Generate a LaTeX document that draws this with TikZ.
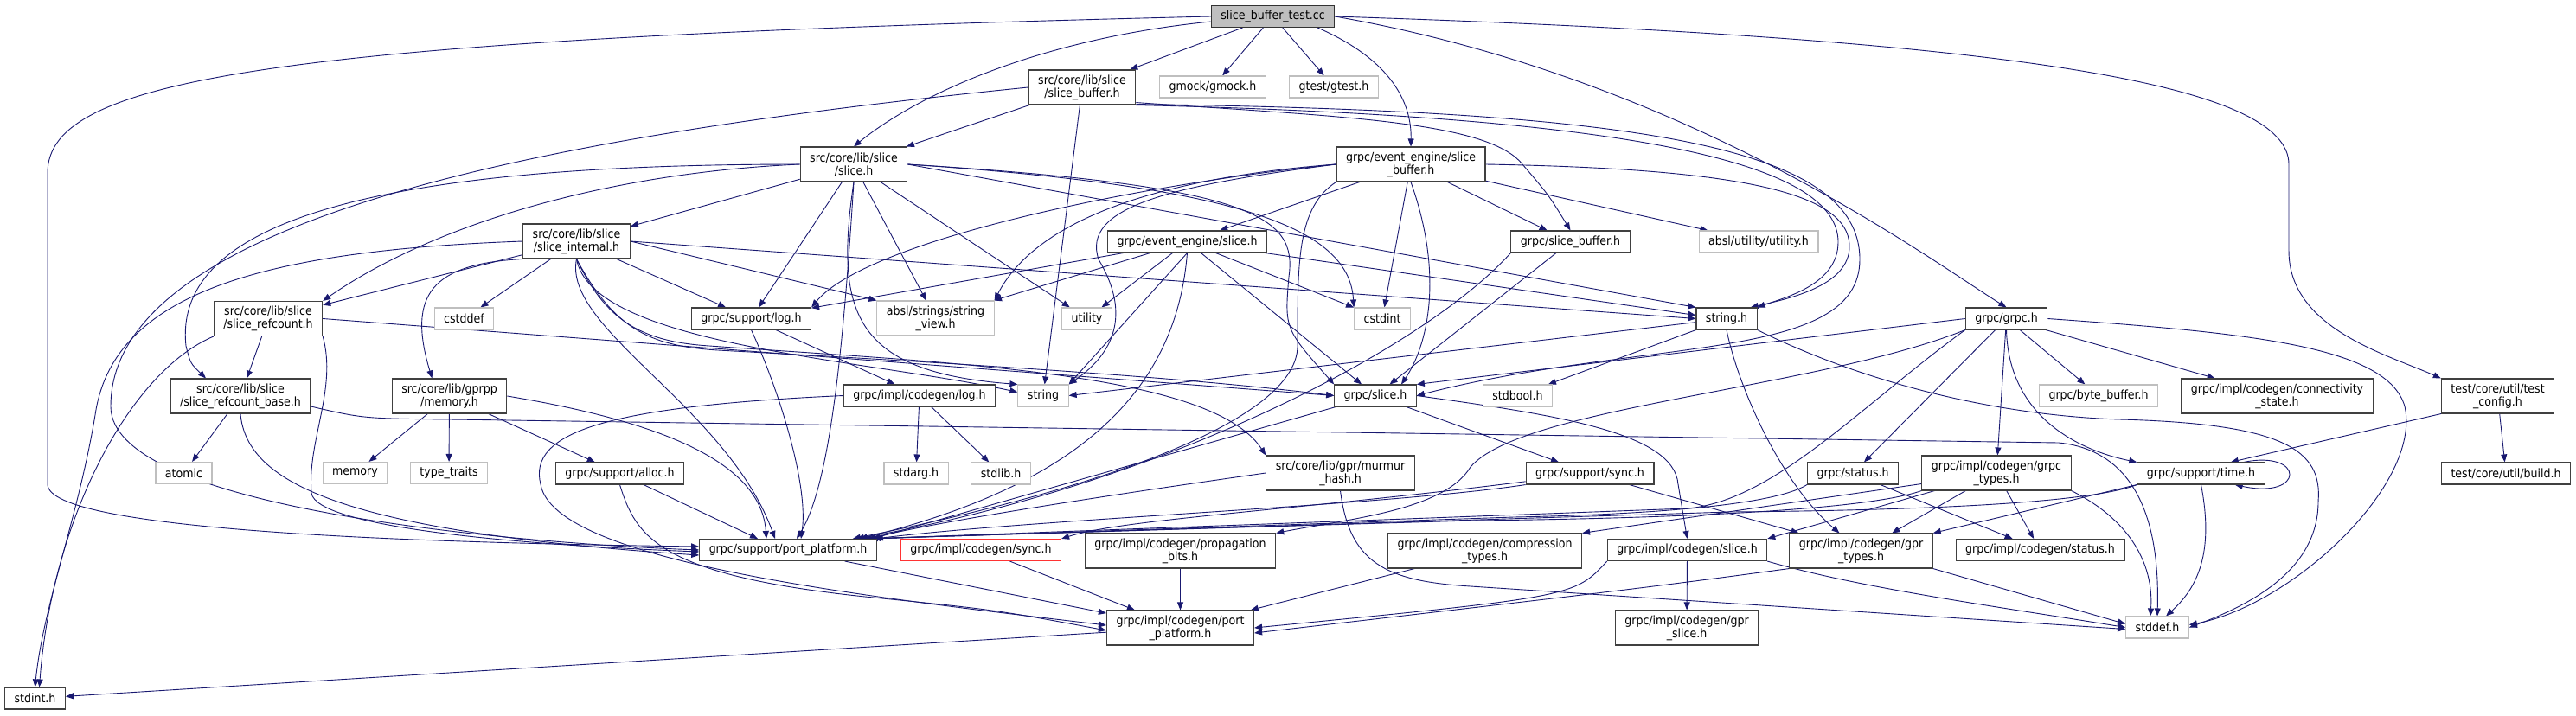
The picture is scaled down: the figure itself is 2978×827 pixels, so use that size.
\documentclass[tikz,border=0pt]{standalone}
\usepackage{fontspec}
\setmainfont{DejaVu Sans Condensed}
\usetikzlibrary{positioning,arrows.meta,backgrounds}

\definecolor{edgeblue}{HTML}{191970}
\definecolor{extgray}{HTML}{BFBFBF}
\newcommand{\dgfont}{\fontsize{14}{15}\selectfont}

\tikzset{
  hdr/.style={draw=black!75, line width=1.1pt, fill=white, inner xsep=11pt, inner ysep=0pt,
    minimum height=25pt, align=center, font=\dgfont},
  two/.style={minimum height=40pt},
  ext/.style={hdr, draw=extgray},
  cur/.style={hdr, fill=extgray, draw=black!80},
  miss/.style={hdr, draw=red!80},
  inc/.style={draw=edgeblue, line width=0.9pt, -{Triangle[length=9pt,width=7pt]}}
}

\begin{document}
\begin{tikzpicture}[x=1pt, y=-1pt]
\useasboundingbox (0,0) rectangle (2978,827);

\node[cur] (root) at (1471.5,19) {slice\_buffer\_test.cc};

\node[hdr,two] (sb) at (1251,101) {src/core/lib/slice\\/slice\_buffer.h};
\node[ext] (gmock) at (1402,100.5) {gmock/gmock.h};
\node[ext] (gtest) at (1542,100.5) {gtest/gtest.h};

\node[hdr,two] (ls) at (987,190) {src/core/lib/slice\\/slice.h};
\node[hdr,two] (eesb) at (1631,190) {grpc/event\_engine/slice\\\_buffer.h};

\node[hdr,two] (sint) at (666.5,279) {src/core/lib/slice\\/slice\_internal.h};
\node[hdr] (eeslice) at (1372.5,279.5) {grpc/event\_engine/slice.h};
\node[hdr] (gsb) at (1815.5,279.5) {grpc/slice\_buffer.h};
\node[ext] (absutil) at (2033,279.5) {absl/utility/utility.h};

\node[hdr,two] (refc) at (310,368.5) {src/core/lib/slice\\/slice\_refcount.h};
\node[ext] (cstddef) at (536.5,368.5) {cstddef};
\node[hdr] (slog) at (868.5,368.5) {grpc/support/log.h};
\node[ext,two] (sview) at (1081.5,368) {absl/strings/string\\\_view.h};
\node[ext] (utility) at (1256.5,368.5) {utility};
\node[ext] (cstdint) at (1598,368.5) {cstdint};
\node[hdr] (strh) at (1996,368.5) {string.h};
\node[hdr] (grpch) at (2319.5,368.5) {grpc/grpc.h};

\node[hdr,two] (refb) at (278,458) {src/core/lib/slice\\/slice\_refcount\_base.h};
\node[hdr,two] (memh) at (519.5,458) {src/core/lib/gprpp\\/memory.h};
\node[hdr] (clog) at (1063,457.5) {grpc/impl/codegen/log.h};
\node[ext] (string) at (1206,457.5) {string};
\node[hdr] (gslice) at (1590,457.5) {grpc/slice.h};
\node[ext] (stdbool) at (1754.5,457.5) {stdbool.h};
\node[ext] (bytebuf) at (2426,457.5) {grpc/byte\_buffer.h};
\node[hdr,two] (connst) at (2632.5,458) {grpc/impl/codegen/connectivity\\\_state.h};
\node[hdr,two] (testcfg) at (2887.5,458) {test/core/util/test\\\_config.h};

\node[ext] (atomic) at (212.5,547) {atomic};
\node[ext] (memory) at (410.5,547) {memory};
\node[ext] (typetr) at (519,547) {type\_traits};
\node[hdr] (alloc) at (716.5,547.5) {grpc/support/alloc.h};
\node[ext] (stdarg) at (1059,547.5) {stdarg.h};
\node[ext] (stdlib) at (1157,547.5) {stdlib.h};
\node[hdr,two] (murmur) at (1549.5,547) {src/core/lib/gpr/murmur\\\_hash.h};
\node[hdr] (ssync) at (1838,547.5) {grpc/support/sync.h};
\node[hdr] (status) at (2142,547.5) {grpc/status.h};
\node[hdr,two] (grpctypes) at (2308,547) {grpc/impl/codegen/grpc\\\_types.h};
\node[hdr] (stime) at (2544.5,547.5) {grpc/support/time.h};
\node[hdr] (build) at (2897,547.5) {test/core/util/build.h};

\node[hdr] (pp) at (911,636) {grpc/support/port\_platform.h};
\node[miss] (csync) at (1134,636) {grpc/impl/codegen/sync.h};
\node[hdr,two] (propbits) at (1364.5,637) {grpc/impl/codegen/propagation\\\_bits.h};
\node[hdr,two] (comptypes) at (1716.5,637) {grpc/impl/codegen/compression\\\_types.h};
\node[hdr] (cslice) at (1950.5,636) {grpc/impl/codegen/slice.h};
\node[hdr,two] (gprtypes) at (2151.5,637) {grpc/impl/codegen/gpr\\\_types.h};
\node[hdr] (cstatus) at (2358.5,636) {grpc/impl/codegen/status.h};

\node[hdr,two] (cpp) at (1364.5,726) {grpc/impl/codegen/port\\\_platform.h};
\node[hdr,two] (gprslice) at (1950,726) {grpc/impl/codegen/gpr\\\_slice.h};
\node[ext] (stddef) at (2494,725.5) {stddef.h};
\node[hdr] (stdint) at (40.5,807.5) {stdint.h};

\begin{scope}[on background layer]
% slice_buffer_test.cc
\draw[inc] (root) -- (sb);
\draw[inc] ([yshift=-6pt]root.west) .. controls (1200,45) and (1060,110) .. (ls.north);
\draw[inc] (root) -- (gmock);
\draw[inc] (root) -- (gtest);
\draw[inc] ([xshift=-20pt]root.south east) .. controls (1610,70) and (1632,120) .. (eesb.north);
\draw[inc] (root.east) .. controls (1950,90) and (2230,300) .. (grpch.north);
\draw[inc] (root.east) .. controls (2350,45) and (2646,100) .. (2646,190) -- (2646,290) .. controls (2646,380) and (2760,410) .. (testcfg.north west);
\draw[inc] (root.west) .. controls (320,45) and (55,90) .. (55,200) -- (55,560) .. controls (55,615) and (500,628) .. ([yshift=4pt]pp.west);

% src/core/lib/slice/slice_buffer.h
\draw[inc] (sb) -- (ls);
\draw[inc] (sb.west) .. controls (700,150) and (128,240) .. (128,470) .. controls (128,590) and (600,628) .. (pp.west);
\draw[inc] (sb) -- (string);
\draw[inc] (sb.south east) .. controls (1900,135) and (2125,190) .. (2125,280) .. controls (2125,330) and (2060,345) .. (strh.north east);
\draw[inc] ([yshift=3pt]sb.south east) .. controls (1550,135) and (1720,140) .. (1760,190) .. controls (1790,225) .. (gsb.north);
\draw[inc] ([yshift=1pt]sb.south east) .. controls (1900,128) and (2150,170) .. (2150,300) .. controls (2150,420) and (1900,390) .. (gslice.east);

% src/core/lib/slice/slice.h
\draw[inc] (ls) -- (sint);
\draw[inc] (ls.west) .. controls (700,200) and (500,260) .. (refc.north east);
\draw[inc] (ls.west) .. controls (420,190) and (200,260) .. (215,400) .. controls (220,420) .. ([xshift=-40pt]refb.north);
\draw[inc] (ls) -- (slog);
\draw[inc] (ls) -- (sview);
\draw[inc] (ls) -- (utility);
\draw[inc] (ls.south) .. controls (965,360) and (985,430) .. (string.north west);
\draw[inc] (ls.east) -- (strh.north west);
\draw[inc] (ls.east) .. controls (1420,215) and (1560,260) .. (cstdint.north west);
\draw[inc] (ls.east) .. controls (1450,215) and (1500,250) .. (1490,320) .. controls (1485,380) .. (gslice.north west);
\draw[inc] (ls.south) .. controls (975,400) and (960,560) .. ([xshift=10pt]pp.north);

% grpc/event_engine/slice_buffer.h
\draw[inc] (eesb) -- (eeslice);
\draw[inc] (eesb) -- (gsb);
\draw[inc] (eesb) -- (absutil);
\draw[inc] (eesb) -- (cstdint);
\draw[inc] (eesb.east) .. controls (2000,195) and (2138,220) .. (2138,285) .. controls (2138,330) and (2070,345) .. ([xshift=-8pt]strh.north east);
\draw[inc] (eesb.west) .. controls (1350,215) and (1250,240) .. (1270,300) .. controls (1300,350) and (1300,400) .. (string.north east);
\draw[inc] (eesb.west) .. controls (1350,205) and (1200,250) .. (sview.north east);
\draw[inc] (eesb.west) .. controls (1300,215) and (1000,280) .. (slog.north east);
\draw[inc] (eesb.south) .. controls (1670,320) and (1650,400) .. ([xshift=30pt]gslice.north);
\draw[inc] (eesb.south west) .. controls (1500,240) and (1500,300) .. (1500,400) .. controls (1500,480) and (1300,560) .. ([xshift=-28pt]pp.north east);

% grpc/event_engine/slice.h
\draw[inc] (eeslice) -- (slog);
\draw[inc] (eeslice) -- (sview);
\draw[inc] (eeslice) -- (utility);
\draw[inc] (eeslice.south) -- (string.north east);
\draw[inc] (eeslice) -- (gslice);
\draw[inc] (eeslice) -- (cstdint);
\draw[inc] (eeslice) -- ([yshift=4pt]strh.west);
\draw[inc] (eeslice.south) .. controls (1360,450) and (1250,560) .. ([xshift=-20pt]pp.north east);

% grpc/slice_buffer.h
\draw[inc] (gsb) -- (gslice);
\draw[inc] (gsb.south west) .. controls (1650,400) and (1350,560) .. ([xshift=-24pt]pp.north east);

% src/core/lib/slice/slice_internal.h
\draw[inc] (sint) -- (refc);
\draw[inc] (sint) -- (cstddef);
\draw[inc] (sint) -- (slog);
\draw[inc] (sint.east) -- (sview.north west);
\draw[inc] (sint.south) .. controls (685,400) and (1000,415) .. ([yshift=4pt]string.west);
\draw[inc] (sint.east) -- (strh.west);
\draw[inc] (sint.south) .. controls (710,380) and (750,400) .. (830,405) .. controls (1200,425) and (1400,440) .. (gslice.west);
\draw[inc] (sint.south) .. controls (700,370) and (740,395) .. (820,400) .. controls (1100,420) and (1400,430) .. (murmur.north west);
\draw[inc] (sint.south west) .. controls (500,305) and (470,340) .. ([xshift=-20pt]memh.north);
\draw[inc] (sint.south) .. controls (650,380) and (840,470) .. ([xshift=-15pt]pp.north);
\draw[inc] (sint.west) .. controls (300,290) and (130,340) .. (110,480) .. controls (90,600) and (50,700) .. (stdint.north);

% src/core/lib/slice/slice_refcount.h
\draw[inc] (refc) -- (refb);
\draw[inc] (refc.south west) .. controls (150,430) and (60,600) .. ([xshift=5pt]stdint.north);
\draw[inc] (refc.south east) .. controls (390,450) and (355,510) .. (360,570) .. controls (365,610) and (600,630) .. ([yshift=-2pt]pp.west);
\draw[inc] (refc.east) -- (gslice.west);

% src/core/lib/slice/slice_refcount_base.h
\draw[inc] (refb) -- (atomic);
\draw[inc] (refb.south) .. controls (285,560) and (400,615) .. ([yshift=-6pt]pp.west);
\draw[inc] ([yshift=-12pt]refb.east) .. controls (420,484) .. (520,485) -- (2380,512) .. controls (2440,518) and (2498,560) .. (stddef.north);

% src/core/lib/gprpp/memory.h
\draw[inc] (memh) -- (memory);
\draw[inc] (memh) -- (typetr);
\draw[inc] (memh) -- (alloc);
\draw[inc] (memh.east) .. controls (780,490) and (880,540) .. ([xshift=-25pt]pp.north);

% grpc/support/alloc.h
\draw[inc] (alloc) -- ([xshift=-35pt]pp.north);
\draw[inc] (alloc.south) .. controls (735,620) and (760,665) .. (1000,690) .. controls (1150,705) .. ([yshift=-3pt]cpp.west);

% grpc/support/log.h and grpc/impl/codegen/log.h
\draw[inc] (slog.south) .. controls (900,450) and (935,560) .. ([xshift=15pt]pp.north);
\draw[inc] (slog) -- (clog);
\draw[inc] (clog) -- (stdarg);
\draw[inc] (clog) -- (stdlib);
\draw[inc] (clog.west) .. controls (700,470) and (610,500) .. (625,560) .. controls (640,650) and (1000,690) .. ([yshift=3pt]cpp.west);

% grpc/slice.h
\draw[inc] (gslice) -- (ssync);
\draw[inc] (gslice.east) .. controls (1800,480) and (1935,500) .. (1940,560) .. controls (1945,590) .. (cslice.north);
\draw[inc] (gslice) -- ([xshift=-5pt]pp.north east);

% src/core/lib/gpr/murmur_hash.h
\draw[inc] (murmur.west) .. controls (1300,570) and (1100,600) .. ([xshift=-10pt]pp.north east);
\draw[inc] (murmur.south) .. controls (1560,650) and (1600,672) .. (1700,678) -- ([yshift=-2pt]stddef.west);

% grpc/support/sync.h
\draw[inc] (ssync) .. controls (1500,590) and (1300,600) .. (csync.north east);
\draw[inc] (ssync.south west) .. controls (1600,585) and (1200,600) .. ([xshift=-2pt]pp.north east);
\draw[inc] (ssync) -- (gprtypes);

% string.h
\draw[inc] (strh) -- (string.east);
\draw[inc] (strh) -- (stdbool);
\draw[inc] (strh.south) .. controls (2010,450) and (2060,560) .. ([xshift=-25pt]gprtypes.north);
\draw[inc] (strh.south east) .. controls (2150,440) and (2300,480) .. (2450,485) .. controls (2640,490) and (2685,520) .. (2680,580) .. controls (2680,660) and (2600,700) .. (stddef.east);

% grpc/grpc.h
\draw[inc] (grpch.west) -- (gslice.north east);
\draw[inc] (grpch) -- (status);
\draw[inc] (grpch) -- (grpctypes);
\draw[inc] (grpch) -- (bytebuf);
\draw[inc] (grpch) -- (connst);
\draw[inc] (grpch.south) .. controls (2322,480) and (2400,520) .. (stime.north west);
\draw[inc] (grpch.east) .. controls (2600,385) and (2760,400) .. (2780,470) .. controls (2800,560) and (2650,700) .. ([yshift=3pt]stddef.east);
\draw[inc] (grpch.south west) .. controls (2150,470) and (2050,580) .. (1950,588) -- ([xshift=-8pt]pp.north east);
\draw[inc] (grpch.south west) .. controls (2100,450) and (1760,470) .. (1700,540) .. controls (1670,590) and (1560,600) .. (propbits.north east);

% grpc/impl/codegen/grpc_types.h
\draw[inc] (grpctypes) -- (comptypes.north east);
\draw[inc] (grpctypes) -- (cslice.north east);
\draw[inc] (grpctypes) -- (cstatus);
\draw[inc] (grpctypes) -- (gprtypes);
\draw[inc] (grpctypes.south east) .. controls (2460,600) and (2490,650) .. ([xshift=-8pt]stddef.north);
\draw[inc] (grpctypes.south west) .. controls (2150,592) and (1900,600) .. (1700,602) -- ([xshift=-16pt]pp.north east);

% grpc/status.h
\draw[inc] (status) -- (cstatus);
\draw[inc] (status.south west) .. controls (2050,585) and (1900,595) .. (1750,598) -- ([xshift=-4pt]pp.north east);

% grpc/support/time.h
\draw[inc] ([xshift=-25pt]stime.north east) .. controls (2665,520) and (2665,578) .. ([xshift=-35pt]stime.south east);
\draw[inc] (stime.south west) -- (gprtypes.north east);
\draw[inc] (stime.south) .. controls (2560,640) and (2540,680) .. ([xshift=10pt]stddef.north);
\draw[inc] (stime.south west) .. controls (2420,580) and (2250,590) .. (2000,592) -- ([xshift=-12pt]pp.north east);

% test/core/util/test_config.h
\draw[inc] (testcfg.south west) -- ([xshift=-40pt]stime.north east);
\draw[inc] (testcfg) -- (build);

% codegen headers
\draw[inc] (cslice) -- (gprslice);
\draw[inc] (cslice.south west) .. controls (1820,690) .. (cpp.east);
\draw[inc] (cslice.south east) .. controls (2150,680) and (2300,700) .. (stddef.west);
\draw[inc] (gprtypes.south west) .. controls (1900,680) .. ([yshift=-6pt]cpp.east);
\draw[inc] (gprtypes.south east) -- ([yshift=4pt]stddef.west);
\draw[inc] (comptypes) -- (cpp);
\draw[inc] (propbits) -- (cpp);
\draw[inc] (csync) -- (cpp);
\draw[inc] (pp) -- (cpp);
\draw[inc] (cpp) -- (stdint);
\end{scope}
\end{tikzpicture}
\end{document}
